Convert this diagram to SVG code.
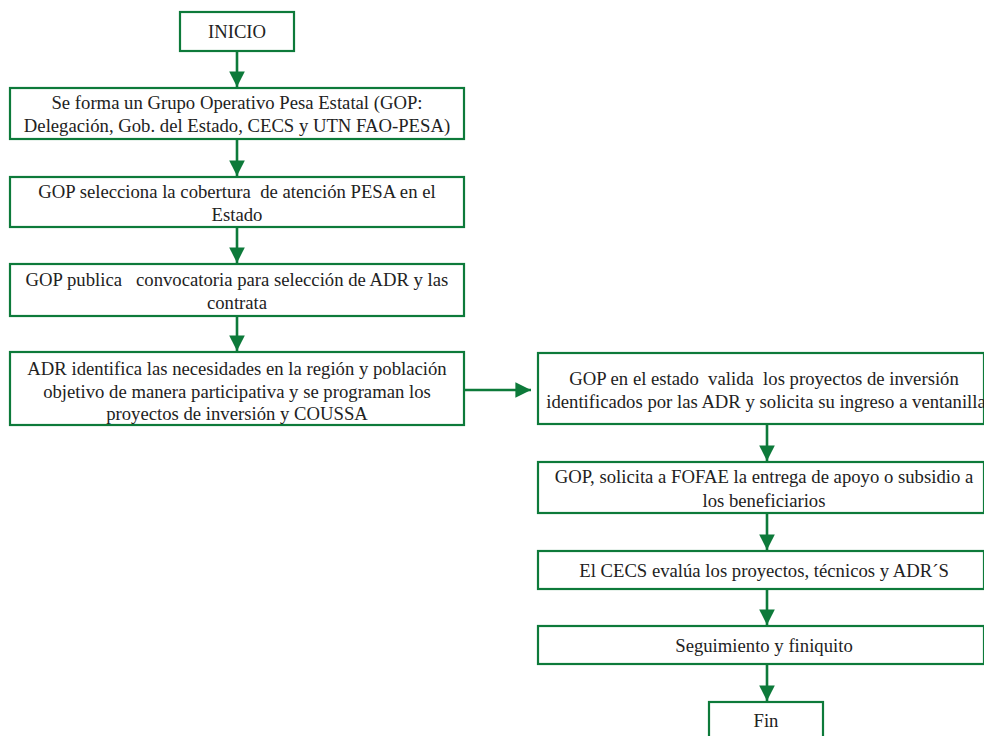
<svg xmlns="http://www.w3.org/2000/svg" width="984" height="736" viewBox="0 0 984 736">
<defs>
<style>
.box{fill:#fff;stroke:#0d7a3a;stroke-width:2.2}
.t{font-family:'Liberation Serif','Times New Roman','DejaVu Serif',serif;font-size:18.7px;fill:#222;text-anchor:middle;white-space:pre}
.c{stroke:#0d7a3a;stroke-width:2.6;fill:none}
</style>
<marker id="ah" viewBox="0 0 10 10" refX="10" refY="5" markerWidth="6" markerHeight="6.5" orient="auto" markerUnits="strokeWidth">
<path d="M0,0 L10,5 L0,10 Z" fill="#0d7a3a"/>
</marker>
</defs>
<rect width="984" height="736" fill="#fff"/>
<g id="connectors">
<line class="c" x1="237" y1="51" x2="237" y2="87" marker-end="url(#ah)"/>
<line class="c" x1="237" y1="140" x2="237" y2="176" marker-end="url(#ah)"/>
<line class="c" x1="237" y1="228" x2="237" y2="263" marker-end="url(#ah)"/>
<line class="c" x1="237" y1="317" x2="237" y2="351" marker-end="url(#ah)"/>
<line class="c" x1="465" y1="390" x2="531" y2="390" marker-end="url(#ah)"/>
<line class="c" x1="767" y1="425" x2="767" y2="461" marker-end="url(#ah)"/>
<line class="c" x1="767" y1="514" x2="767" y2="550" marker-end="url(#ah)"/>
<line class="c" x1="767" y1="590" x2="767" y2="625" marker-end="url(#ah)"/>
<line class="c" x1="767" y1="665" x2="767" y2="701" marker-end="url(#ah)"/>
</g>
<g id="n1"><rect class="box" x="180" y="12" width="114" height="39"/><text class="t" x="237" y="38">INICIO</text></g>
<g id="n2"><rect class="box" x="10" y="88" width="454" height="51"/><text class="t" x="237" y="109">Se forma un Grupo Operativo Pesa Estatal (GOP:</text><text class="t" x="237" y="132">Delegación, Gob. del Estado, CECS y UTN FAO-PESA)</text></g>
<g id="n3"><rect class="box" x="10" y="177" width="454" height="50"/><text class="t" x="237" y="198" xml:space="preserve">GOP selecciona la cobertura  de atención PESA en el</text><text class="t" x="237" y="221">Estado</text></g>
<g id="n4"><rect class="box" x="10" y="264" width="454" height="52"/><text class="t" x="237" y="286" xml:space="preserve">GOP publica   convocatoria para selección de ADR y las</text><text class="t" x="237" y="309">contrata</text></g>
<g id="n5"><rect class="box" x="10" y="352" width="454" height="73"/><text class="t" x="237" y="375">ADR identifica las necesidades en la región y población</text><text class="t" x="237" y="398">objetivo de manera participativa y se programan los</text><text class="t" x="237" y="420">proyectos de inversión y COUSSA</text></g>
<g id="n6"><rect class="box" x="538" y="353" width="446" height="71"/><text class="t" x="764" y="385" xml:space="preserve">GOP en el estado  valida  los proyectos de inversión</text><text class="t" x="766" y="408">identificados por las ADR y solicita su ingreso a ventanilla</text></g>
<g id="n7"><rect class="box" x="538" y="462" width="446" height="51"/><text class="t" x="764" y="483">GOP, solicita a FOFAE la entrega de apoyo o subsidio a</text><text class="t" x="764" y="507">los beneficiarios</text></g>
<g id="n8"><rect class="box" x="538" y="551" width="446" height="38"/><text class="t" x="764" y="577">El CECS evalúa los proyectos, técnicos y ADR´S</text></g>
<g id="n9"><rect class="box" x="538" y="626" width="446" height="38"/><text class="t" x="764" y="652">Seguimiento y finiquito</text></g>
<g id="n10"><rect class="box" x="709" y="702" width="114" height="40"/><text class="t" x="766" y="727">Fin</text></g>
</svg>
